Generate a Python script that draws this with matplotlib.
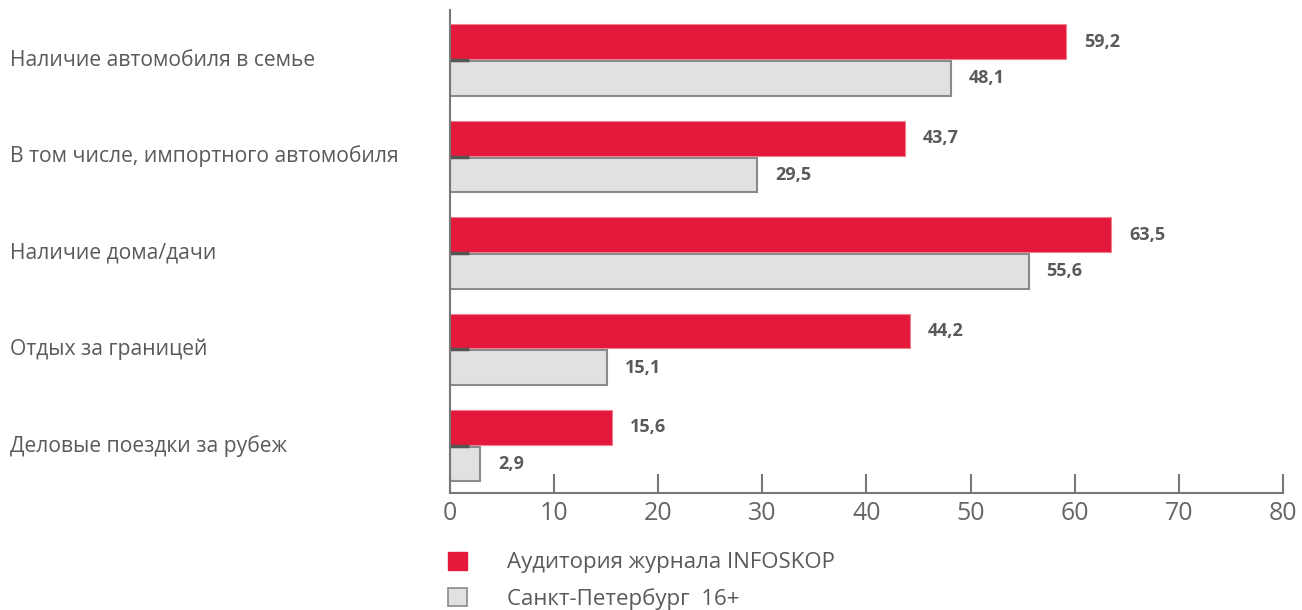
import matplotlib.pyplot as plt
from matplotlib.patches import Patch
import numpy as np

plt.rcParams['font.family'] = ['Open Sans', 'DejaVu Sans']

categories = [
    "Наличие автомобиля в семье",
    "В том числе, импортного автомобиля",
    "Наличие дома/дачи",
    "Отдых за границей",
    "Деловые поездки за рубеж",
]
infoskop = [59.2, 43.7, 63.5, 44.2, 15.6]
spb = [48.1, 29.5, 55.6, 15.1, 2.9]
series_names = ["Аудитория журнала INFOSKOP", "Санкт-Петербург  16+"]

red = "#e3183a"
gray_fill = "#e1e1e4"
gray_edge = "#8a8a8a"
text_col = "#5a5a5a"

fig = plt.figure(figsize=(13.02, 6.10), dpi=100)
ax = fig.add_axes([0.3456, 0.1918, 0.6398, 0.7918])

y = np.arange(len(categories))
h = 0.36
off = 0.19
ax.barh(y - off, infoskop, height=h, color=red, edgecolor="#f08090", linewidth=0.8)
ax.barh(y + off, spb, height=h, color=gray_fill, edgecolor=gray_edge, linewidth=1.5)

for yi, v in zip(y, infoskop):
    ax.text(v + 1.7, yi - off, f"{v:.1f}".replace(".", ","), va="center", ha="left",
            fontsize=13, fontweight="bold", color=text_col)
for yi, v in zip(y, spb):
    ax.text(v + 1.7, yi + off, f"{v:.1f}".replace(".", ","), va="center", ha="left",
            fontsize=13, fontweight="bold", color=text_col)

ax.set_xlim(0, 80)
ax.set_ylim(4.49, -0.52)
ax.set_xticks(range(0, 81, 10))
ax.tick_params(axis="x", direction="in", length=14, width=1.5, color="#777777",
               labelsize=18, labelcolor="#666666", pad=6)
ax.set_yticks(y)
ax.set_yticklabels([])
ax.tick_params(axis="y", direction="in", length=14, width=2.5, color="#555555")

for s in ["top", "right"]:
    ax.spines[s].set_visible(False)
for s in ["left", "bottom"]:
    ax.spines[s].set_color("#777777")
    ax.spines[s].set_linewidth(1.5)

for yi, cat in zip(y, categories):
    ax.text(0.0077, ax.transData.transform((0, yi))[1] / fig.bbox.height, cat,
            transform=fig.transFigure, ha="left", va="center", fontsize=15.2, color=text_col)

handles = [Patch(facecolor=red, edgecolor=red),
           Patch(facecolor=gray_fill, edgecolor=gray_edge, linewidth=1.2)]
fig.legend(handles, series_names, loc="upper left", bbox_to_anchor=(0.329, 0.128),
           frameon=False, fontsize=16, labelcolor=text_col, handlelength=0.85,
           handleheight=0.85, handletextpad=1.8, labelspacing=0.65)

fig.savefig("out.png", dpi=100)
